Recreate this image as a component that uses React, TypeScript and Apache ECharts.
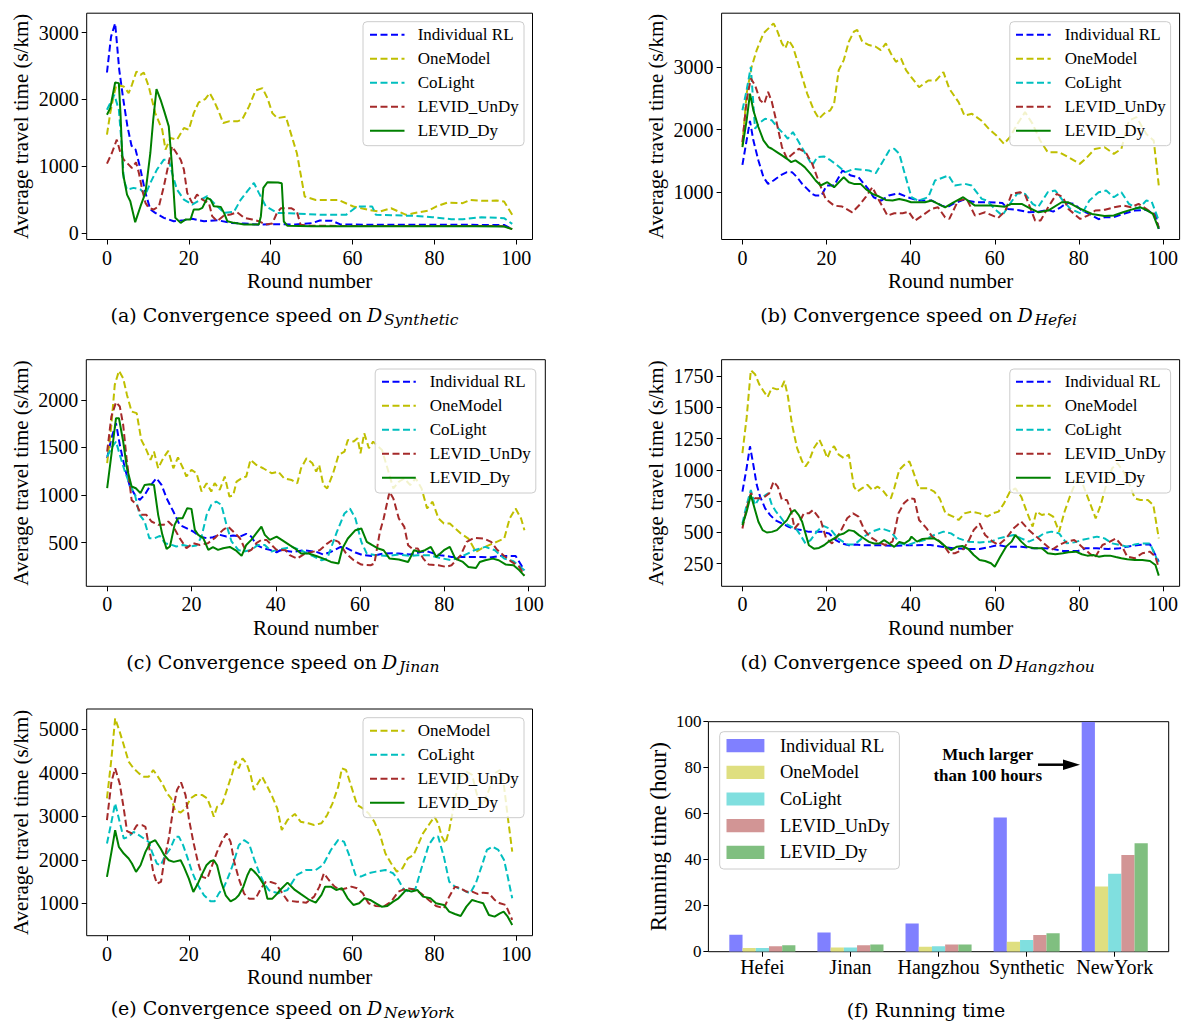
import React, { useEffect, useRef } from 'react';
import * as echarts from 'echarts';

type Pt = [number, number];

const SERIES_NAMES = ['Individual RL', 'OneModel', 'CoLight', 'LEVID_UnDy', 'LEVID_Dy'];
const LINE_COLORS = ['#0000ff', '#bfbf00', '#00bfbf', '#a52a2a', '#008000'];
const BAR_COLORS = ['#8080ff', '#dfdf80', '#80dfdf', '#d29595', '#80bf80'];

// ---------- (a) Synthetic ----------
const synIndividual: Pt[] = [[0,2403],[1,2940],[2,3139],[3,2443],[4,1995],[5,1597],[6,1308],[7,1249],[8.2,950],[9.4,602],[10.6,353],[11.8,303],[13.9,229],[16.3,179],[18.8,194],[20.8,214],[23.7,179],[27,194],[30.2,154],[33.5,144],[36.7,129],[41.6,134],[46,128],[50,150],[52,189],[55,185],[57,130],[65,125],[75,125],[85,125],[97,122],[99,60]];
const synOneModel: Pt[] = [[0,1473],[0.8,1796],[1.6,2045],[2.3,2219],[4.1,2194],[5.3,2095],[6.1,2219],[7.2,2418],[8.2,2368],[9,2403],[10.2,2194],[11.8,1796],[13.5,1547],[14.3,1249],[15.5,1423],[17.1,1398],[18.8,1572],[20,1547],[21.2,1796],[22.4,1955],[24,2005],[25.1,2095],[26.1,1985],[27.3,1821],[28.4,1647],[29.8,1672],[31.8,1672],[33,1697],[34.7,1896],[36.3,2134],[38,2169],[39.2,2020],[40.4,1796],[41.6,1721],[43.7,1741],[46.4,1194],[48.3,547],[51,497],[56.5,497],[60.2,398],[63.9,348],[66.6,323],[69.4,373],[73.1,274],[74.9,298],[78.6,338],[80.4,398],[83.2,458],[86.9,448],[88.7,497],[91.5,483],[95.1,488],[97,473],[99,274]];
const synCoLight: Pt[] = [[0,1846],[0.8,1945],[1.8,2070],[2.9,1846],[3.7,1249],[4.1,801],[4.9,652],[6.5,677],[8.2,652],[9.4,577],[10.6,751],[12.2,950],[13.9,1099],[15.1,1099],[15.9,900],[17.1,652],[18.8,502],[20.8,428],[22.9,502],[24.5,552],[26.1,453],[28.6,303],[31,318],[32.7,502],[34.3,627],[35.9,751],[37.1,602],[38.8,403],[41.6,303],[44.6,298],[52.8,274],[58.4,274],[61.1,398],[64.8,398],[65.7,274],[74.9,259],[79.5,239],[84.1,209],[86.9,209],[91.5,239],[97,224],[99,139]];
const synUnDy: Pt[] = [[0,1040],[1.2,1199],[2.4,1398],[3.3,1199],[4.1,1099],[5.3,1025],[6.1,975],[7.1,1060],[7.8,900],[8.6,652],[9.4,453],[10.2,378],[11.4,353],[12.7,403],[13.9,701],[15.1,1050],[15.9,1298],[16.7,1224],[18,1099],[18.8,950],[19.6,602],[20.8,453],[22,577],[23.3,502],[24.9,453],[25.7,254],[26.9,179],[28.6,264],[30.2,279],[31.8,313],[33.5,229],[35.5,204],[37.1,179],[38.8,129],[40.4,144],[41.5,300],[42.5,373],[45,373],[46.4,323],[47.3,124],[50,110],[60,108],[70,108],[80,108],[90,108],[97,105],[99,60]];
const synDy: Pt[] = [[0,1771],[0.8,1871],[2,2254],[2.9,2244],[3.3,1796],[3.9,900],[4.9,577],[5.7,478],[6.9,164],[8.2,403],[9.4,602],[10.6,1199],[11.3,1696],[12.1,2154],[13.1,1995],[14,1821],[15.1,1597],[15.9,1000],[16.7,229],[18,154],[19.2,204],[20.4,204],[21.2,353],[22.4,353],[23.3,378],[24.5,527],[25.3,502],[26.1,403],[27.8,393],[28.6,303],[29.4,179],[31,154],[33.5,129],[37.1,129],[37.6,254],[38.2,677],[39.2,761],[41.8,756],[42.7,746],[43.2,174],[44.1,109],[50,105],[60,102],[70,102],[80,102],[90,102],[97,100],[99,60]];

// ---------- (b) Hefei ----------
const hefIndividual: Pt[] = [[0,1436],[1,1827],[1.8,2136],[2.6,1827],[3.8,1507],[5,1240],[6.1,1133],[7.4,1187],[9,1267],[10.6,1320],[11.8,1320],[13,1240],[14.2,1133],[15.4,1053],[16.6,973],[17.4,947],[18.8,947],[20,1106],[21.8,1106],[23.8,1346],[25.8,1266],[27.6,1239],[29.9,1053],[31.2,920],[33,867],[34.8,947],[37,984],[39.3,920],[41.8,867],[45,867],[47.4,787],[48.6,760],[50.1,814],[52.5,880],[55.5,840],[58.5,840],[61.8,830],[63.1,734],[65.4,718],[68.1,681],[70.4,690],[72.6,718],[73.9,690],[75.7,760],[77.1,830],[78.9,814],[80.7,708],[82.5,654],[84.7,570],[86.1,601],[88.3,601],[90.5,654],[93.3,708],[95.9,718],[98.2,654],[99,415]];
const hefOneModel: Pt[] = [[0,1747],[1,2573],[2.2,3000],[3.4,3267],[5,3533],[6.2,3613],[7.4,3693],[8.2,3587],[9.4,3373],[10.2,3293],[11,3427],[12,3320],[13,3107],[14.2,2840],[15.4,2573],[17,2307],[18.2,2173],[19.4,2253],[20.9,2307],[21.8,2413],[22.9,2947],[24.1,3107],[25.3,3400],[26.5,3560],[27.3,3587],[28.5,3400],[30.1,3347],[31.7,3320],[32.9,3267],[34.1,3373],[35.3,3213],[36.5,3080],[37.7,3133],[38.9,2947],[40.1,2840],[42,2675],[44.2,2782],[46,2782],[47.8,2915],[49.2,2649],[51.4,2436],[52.8,2223],[54.6,2250],[56.8,2144],[58.6,2011],[60.4,1904],[62.2,1771],[63.6,1878],[65.4,2090],[67.2,2277],[69,2090],[70.8,1824],[72.6,1638],[75.3,1638],[77.5,1558],[80.2,1452],[81.6,1532],[83.8,1691],[86.1,1718],[88.3,1612],[90.1,1691],[91.9,2144],[93.7,2197],[96,1931],[97.8,1824],[99,1106]];
const hefCoLight: Pt[] = [[0,2307],[1,2627],[2,3000],[3,2013],[4,2100],[5.4,2173],[7,2147],[8.6,2013],[9.8,1933],[10.8,1853],[12,1960],[13.4,1800],[15,1613],[16.6,1427],[17.8,1560],[19.4,1571],[21,1507],[22.6,1427],[24.5,1320],[26.5,1373],[28.5,1357],[30.1,1347],[31.7,1304],[33.3,1480],[34.9,1667],[36.1,1693],[37.3,1613],[38.6,1294],[40.2,920],[41.8,867],[44.2,920],[45.8,1187],[49,1267],[50.5,1107],[52.9,1134],[54.5,1106],[56.9,894],[58.1,867],[60.4,708],[61.8,628],[63.6,814],[65.4,984],[67.2,973],[69,814],[70.3,761],[72.6,1000],[74.4,1027],[76.2,867],[78,734],[80.7,654],[82.5,867],[84.7,1000],[86.5,1027],[88.3,920],[90.1,1000],[91.9,814],[94.2,734],[96,867],[97.3,851],[99,548]];
const hefUnDy: Pt[] = [[0,1800],[1,2467],[2,2813],[3,2707],[4.2,2467],[5.2,2413],[6.1,2600],[7,2440],[8.2,2093],[9.4,1720],[10.6,1533],[12,1613],[13.4,1693],[15,1640],[16.6,1453],[18.2,1160],[19.8,893],[21.8,787],[23.7,771],[26.1,680],[27.7,787],[29.3,920],[30.9,1080],[32.5,867],[34.5,627],[36.1,664],[38.1,664],[39.5,690],[41,546],[43,640],[45,734],[46.5,760],[48.2,600],[49.2,574],[51.3,867],[53.3,894],[55.3,627],[57.7,680],[60.8,590],[62.5,700],[64,973],[66,1000],[67.3,947],[69.6,547],[70.9,548],[72.7,761],[74.7,973],[76.2,920],[77.5,734],[80.3,574],[82.1,628],[83.9,708],[86.2,720],[88.4,761],[90.6,787],[92.4,761],[94.2,814],[96,734],[97.8,654],[99,441]];
const hefDy: Pt[] = [[0,1720],[1,2147],[1.8,2573],[2.6,2307],[3.8,2040],[5,1827],[6.2,1720],[7,1693],[8.2,1640],[9.4,1587],[10.6,1533],[11.6,1480],[12.6,1507],[13.8,1453],[14.8,1400],[16.2,1293],[17.4,1187],[18.6,1107],[20.2,1160],[21.8,1080],[24.1,1240],[25.3,1160],[26.5,1133],[28.1,1133],[29.3,1053],[30.9,973],[32.5,931],[34.1,877],[35.7,867],[37.3,893],[38.9,867],[40.1,840],[43.4,840],[45,867],[48.2,760],[50,830],[52.5,920],[55.3,787],[59.3,787],[62.4,770],[64,814],[66.4,814],[68.5,740],[70.4,680],[72.7,707],[75.9,840],[77.5,840],[79.9,750],[83.1,654],[86.1,620],[88.3,628],[90.5,681],[92.3,718],[94.5,761],[96.3,708],[97.6,654],[99,415]];

// ---------- (c) Jinan ----------
const jinIndividual: Pt[] = [[0,1387],[1,1597],[2.1,1754],[3,1527],[4.2,1281],[5.4,1089],[6.6,1001],[7.7,948],[8.9,1001],[10.1,1089],[11.7,1176],[12.9,1106],[14.1,966],[15.7,826],[17.2,686],[18.8,651],[20.4,616],[22,563],[23.6,546],[25.1,556],[26.7,581],[28.3,563],[29.9,574],[31.5,563],[33,591],[34.2,563],[35.4,475],[37,440],[38.6,423],[40.2,398],[41.1,419],[44.2,402],[46.9,419],[49.6,402],[51.3,374],[53.1,402],[55.4,454],[56.7,444],[58.9,395],[60.7,367],[62.9,359],[65.6,384],[67.4,388],[69.2,384],[71.9,374],[74.6,402],[76.3,402],[79,367],[81.7,349],[85.3,349],[88.8,349],[90.6,342],[93.3,359],[96.9,359],[99,208]];
const jinOneModel: Pt[] = [[0,1334],[1,1737],[1.8,2157],[2.8,2305],[3.8,2227],[4.7,2052],[5.8,1877],[7,1860],[8.1,1579],[9.3,1474],[10.3,1369],[11.1,1457],[12.1,1281],[13.3,1387],[14.5,1464],[15.7,1281],[16.8,1394],[18,1281],[18.8,1194],[20,1264],[21.2,1229],[22.4,1036],[23.6,1124],[24.7,1036],[25.5,1124],[26.7,1054],[27.9,1194],[29,984],[29.9,994],[30.7,1141],[31.9,1176],[33,1194],[34,1369],[35.4,1316],[37,1281],[39,1229],[40.6,1245],[42,1174],[43.8,1157],[45.1,1122],[46,1280],[47.3,1385],[48.7,1333],[49.6,1245],[50.3,1315],[51.3,1104],[52.2,1069],[53.6,1227],[54.9,1420],[56.3,1455],[57.1,1578],[58.5,1561],[59.4,1596],[60.1,1438],[61,1649],[62.1,1491],[63.1,1561],[65.2,1473],[66.5,1280],[67.9,1069],[69.2,1139],[70.5,1174],[71.9,1104],[73.2,1174],[74.6,1069],[75.9,858],[77.2,929],[78.6,753],[79.9,700],[81.3,700],[82.6,648],[83.9,595],[85.7,542],[87.5,402],[88.8,437],[90.6,472],[92.4,507],[94.2,542],[95.5,753],[96.9,858],[98.2,753],[99,630]];
const jinCoLight: Pt[] = [[0,1404],[1,1492],[2.1,1562],[3,1422],[4.2,1246],[5.4,1106],[6.6,1001],[7.7,791],[8.9,721],[10,546],[11.3,546],[12.5,570],[13.7,493],[15.3,475],[16.4,458],[18,475],[19.6,458],[21.2,468],[22.4,563],[23.6,791],[24.7,896],[25.9,931],[27.1,896],[28.3,686],[29.5,511],[31.1,423],[32.3,405],[34.2,423],[35.8,475],[37.4,475],[39,405],[40.2,423],[43.8,454],[46,419],[48.7,359],[50.9,314],[52.2,331],[54.5,612],[56.3,806],[57.6,858],[58.9,753],[60.3,507],[61.6,384],[63.8,367],[66.5,359],[69.2,374],[71.9,359],[73.7,367],[76.3,367],[79,338],[81.7,314],[84.4,359],[87.1,419],[89.7,454],[92,419],[94.2,331],[96.4,303],[99,208]];
const jinUnDy: Pt[] = [[0,1457],[1,1825],[2.1,1975],[3,1930],[3.8,1737],[4.6,1387],[5.8,948],[7,896],[8.1,791],[9.3,791],[10.5,721],[12.1,686],[13.4,686],[14.5,721],[15.7,668],[17.2,546],[18.8,441],[20.4,493],[22,475],[23.9,493],[25.5,546],[27.5,633],[28.7,668],[29.9,616],[31.5,546],[32.6,440],[33.4,405],[34.2,423],[35.4,493],[36.6,528],[37.8,528],[39,475],[40.2,423],[42.4,419],[43.3,367],[45.1,331],[46.9,384],[48.7,402],[50.4,419],[52.2,489],[53.6,532],[54.9,507],[56.7,384],[58.5,314],[60.3,268],[62.5,261],[63.4,279],[64.7,612],[65.6,753],[67,1034],[67.9,964],[69.2,753],[70.5,665],[71.4,472],[72.3,437],[73.7,437],[75,331],[76.3,268],[78.6,261],[80.4,244],[81.7,261],[83.9,367],[85.3,507],[87.1,549],[89.3,542],[91.1,507],[92.4,430],[94.2,359],[96,296],[97.8,244],[99,156]];
const jinDy: Pt[] = [[0,1071],[1,1422],[2.1,1807],[2.8,1807],[3.8,1562],[4.7,1281],[5.8,1089],[6.8,1071],[7.9,1019],[8.9,1106],[10.1,1113],[11.1,1106],[12.1,791],[13.1,581],[14.1,433],[14.9,458],[16,686],[16.8,756],[17.9,756],[19,861],[20,854],[20.8,633],[21.6,581],[22.8,546],[24,423],[25.1,451],[26.3,423],[27.5,440],[29.1,454],[30.7,412],[31.9,360],[33,475],[34.2,528],[35.4,598],[36.6,668],[37.4,581],[38.6,528],[40.2,563],[41.5,525],[43.3,472],[44.6,437],[46,384],[47.8,384],[49.6,359],[51.3,331],[53.1,296],[54.9,279],[55.8,437],[57.1,542],[58.9,630],[60.3,648],[61.6,507],[62.9,472],[64.3,437],[65.6,419],[67,331],[69.2,321],[71.4,296],[72.8,419],[74.1,402],[75.4,419],[76.8,454],[78.1,349],[79.9,419],[81.3,454],[82.6,331],[84.4,296],[85.7,244],[87.5,233],[88.4,296],[89.7,314],[91.5,331],[92.9,314],[94.6,268],[96.4,261],[97.8,208],[99,149]];

// ---------- (d) Hangzhou ----------
const hzIndividual: Pt[] = [[0,826],[1,1014],[1.8,1188],[2.6,1040],[3.4,880],[4.2,786],[5.4,692],[6.6,638],[7.8,598],[9.4,571],[11,545],[12.6,526],[14.2,518],[15.8,504],[19,504],[20.6,491],[22.2,438],[23.7,411],[25.3,397],[26.9,403],[28.5,397],[33.3,397],[35.7,392],[38.9,397],[44.7,399],[47.4,386],[50.1,373],[53.7,367],[56.4,367],[59.1,386],[60.9,399],[62.7,386],[66.3,386],[69,373],[71.7,373],[73.9,367],[76.2,351],[79.8,351],[81.6,373],[84.3,373],[87,367],[89.7,373],[91.5,386],[94.2,399],[96.9,405],[99,266]];
const hzOneModel: Pt[] = [[0,1134],[1,1415],[2,1796],[3,1764],[4,1683],[5,1630],[6,1581],[7,1656],[8.2,1643],[9.2,1651],[10,1710],[10.8,1590],[11.8,1362],[13,1174],[14.2,1067],[15,1027],[15.8,1067],[17,1174],[18.3,1241],[19.4,1161],[20.2,1094],[21,1161],[21.8,1188],[22.9,1121],[24.1,1094],[25.3,1121],[26.5,866],[27.3,826],[28.5,853],[29.7,880],[30.9,839],[32.1,866],[33.3,839],[34.5,786],[35.3,772],[36.1,853],[37.3,1000],[38.5,1040],[39.7,1067],[40.2,1025],[42,852],[44.2,852],[45.6,825],[46.9,772],[48.3,652],[50.1,626],[51.4,599],[52.8,652],[54.6,666],[56.4,652],[58.2,626],[59.5,652],[60.9,666],[62.2,732],[63.6,825],[64.9,852],[66.3,785],[67.6,666],[69,546],[69.9,666],[71.2,639],[72.6,652],[73.9,626],[75.3,506],[76.6,666],[78,799],[79.3,905],[80.7,905],[82.5,746],[84,612],[85.2,719],[86.5,879],[87.9,1012],[89.2,1052],[90.6,985],[91.9,892],[93.3,772],[94.6,759],[96.4,759],[97.7,719],[99,452]];
const hzCoLight: Pt[] = [[0,571],[1,719],[2,839],[3,719],[4,772],[5,786],[6.1,813],[7,719],[8,665],[9,625],[10.2,571],[11.6,545],[12.7,531],[13.8,478],[15,411],[16.2,438],[17.7,506],[19.1,554],[20.9,527],[22.7,452],[24.9,404],[26.7,404],[28.9,466],[30.8,506],[33,532],[35.3,506],[37.5,412],[39.3,399],[41.1,420],[43.3,439],[45.6,479],[47.8,506],[49.6,492],[51.4,452],[53.7,426],[56.4,420],[59.1,426],[60.9,452],[62.7,466],[64.5,479],[66.3,452],[68.1,426],[69.9,452],[71.7,492],[73.5,506],[75.3,492],[77.1,412],[78.9,420],[80.7,439],[82.5,452],[84.3,466],[86.1,452],[87.9,412],[89.7,399],[91.5,386],[93.3,404],[95.1,412],[96.9,412],[99,253]];
const hzUnDy: Pt[] = [[0,531],[1,692],[2,813],[3,772],[4.2,772],[5.4,786],[6.4,813],[7.4,906],[8.4,866],[9.4,759],[10.6,759],[11.6,665],[12.4,531],[13.4,571],[14.6,652],[15.8,652],[16.8,679],[18.6,599],[19.9,452],[21.3,412],[23.1,492],[24.9,612],[26.3,652],[27.6,626],[29,519],[30.3,466],[32.1,426],[33.9,399],[35.7,426],[37.1,652],[38.4,732],[39.7,772],[40.9,767],[42,599],[43.8,532],[45.1,466],[46.5,439],[47.8,399],[49.2,333],[50.5,333],[52.3,359],[53.7,426],[55,519],[56.4,572],[57.7,479],[59.5,426],[60.9,399],[62.7,452],[64.5,532],[66.3,586],[68.1,519],[69.9,466],[71.7,412],[73.5,359],[75.3,399],[77.1,426],[78.9,439],[80.7,386],[82.5,333],[83.8,298],[85.6,399],[87.4,426],[88.8,452],[90.1,399],[91.5,306],[93.3,293],[95.1,333],[96.9,346],[98.2,306],[99,213]];
const hzDy: Pt[] = [[0,558],[1,665],[2,799],[3,679],[3.8,585],[4.8,518],[5.8,499],[7,504],[8.2,518],[9.4,558],[10.6,598],[11.6,660],[12.4,679],[13.4,638],[14.2,585],[15,491],[15.8,397],[17,370],[18.2,376],[19.4,397],[20.6,429],[21.8,451],[22.9,478],[24.1,491],[25.3,518],[26.5,510],[27.7,478],[28.9,451],[30.1,424],[31.3,411],[32.5,411],[33.7,438],[34.9,411],[36.1,384],[37.3,424],[38.5,411],[39.7,438],[40.2,466],[41.5,426],[42.8,447],[44.2,452],[45.6,452],[46.9,426],[48.3,386],[49.6,359],[51,386],[52.3,391],[53.7,367],[55,319],[56.4,279],[57.7,271],[59.1,253],[60,226],[61.3,306],[62.7,386],[64,426],[64.9,479],[66.3,426],[67.6,386],[69.4,373],[71.2,373],[72.6,333],[74.4,325],[76.2,333],[77.5,341],[79.3,346],[80.7,325],[82,314],[83.4,319],[84.7,306],[86.1,314],[87.4,314],[88.8,303],[90.1,293],[91.5,285],[93.3,279],[95.1,279],[96.9,271],[98.2,239],[99,154]];

// ---------- (e) NewYork ----------
const nyOneModel: Pt[] = [[0,3411],[1.1,4332],[2,5254],[3.1,4947],[4.1,4639],[5.3,4255],[6.5,4102],[7.8,3987],[9,3910],[10.2,3910],[11.3,4063],[12.2,3948],[13.5,3756],[14.7,3526],[15.7,3411],[16.6,3142],[18,3088],[19.2,3181],[20.4,3411],[21.6,3488],[23.3,3488],[24.5,3411],[25.3,3219],[26.1,2989],[26.9,3219],[28.2,3296],[29.4,3641],[30.6,3987],[31.4,4271],[32.2,4102],[33.1,4332],[34.1,4217],[35.1,3948],[35.9,3603],[37.1,3795],[37.9,3910],[39.2,3680],[40.4,3449],[41.6,3181],[42.7,2686],[44.1,2916],[45.9,3054],[47.3,2877],[49.2,2839],[50.6,2801],[52.4,2839],[53.8,3031],[55.1,3299],[56.5,3682],[57.4,4104],[58.4,4065],[59.7,3682],[61.1,3261],[62.5,3184],[63.9,3069],[65.3,2877],[66.6,2609],[68,2149],[69.4,1920],[70.8,1728],[72.2,1805],[73.5,2034],[74.9,2111],[75.8,2303],[77.2,2609],[78.6,2801],[80,2992],[80.9,2839],[81.8,2533],[82.7,2379],[83.6,2686],[85.5,3605],[86.4,3912],[87.8,4027],[89.2,3950],[90.5,3452],[91.9,3261],[93.3,3605],[94.7,3988],[96,4065],[96.9,3759],[97.9,2992],[99,2188]];
const nyCoLight: Pt[] = [[0,2374],[1.1,2873],[2,3296],[3.1,2873],[4.1,2490],[5.3,2528],[6.5,2643],[7.8,2566],[9,2490],[10.2,2413],[11,2182],[12.2,1914],[13.1,1875],[14.3,2106],[15.5,2259],[16.7,2528],[17.6,2528],[18.6,2336],[19.6,2067],[20.8,1722],[22,1453],[23.7,1184],[25.3,1046],[26.3,1046],[27.3,1223],[28.6,1376],[29.8,1645],[31,1952],[32.2,2336],[33.5,2451],[34.7,2374],[35.9,2029],[37.1,1722],[38.4,1453],[39.6,1299],[40.8,1261],[41.8,1230],[44.1,1307],[46.4,1651],[48.7,1766],[51,1766],[52.8,1881],[54.7,2226],[56.5,2456],[57.9,2418],[59.3,2073],[60.7,1651],[62,1613],[63.9,1690],[65.7,1728],[68,1766],[69.9,1690],[71.2,1536],[72.6,1307],[74,1268],[75.4,1345],[76.7,1766],[78.6,2341],[80,2533],[80.9,2533],[82.3,2073],[83.6,1498],[85,1383],[86.9,1307],[88.7,1230],[90.1,1460],[91.5,1843],[92.8,2226],[94.2,2303],[95.6,2226],[97,1996],[97.9,1613],[99,1115]];
const nyUnDy: Pt[] = [[0,2912],[1.1,3795],[2,4102],[3.1,3756],[4.1,3181],[4.9,2658],[6.1,2605],[7.3,2797],[8.6,2797],[9.4,2758],[10.2,2336],[11.3,1722],[12.2,1453],[13.2,1491],[14,1990],[15.1,2490],[16.2,3181],[17.1,3603],[18.1,3779],[19.2,3488],[20,2950],[21.1,2413],[22.2,1952],[23.3,1607],[24.5,1568],[25.7,1875],[26.9,2182],[28.2,2451],[29.2,2605],[30.2,2413],[31.1,1952],[32.2,1568],[33.5,1223],[34.7,1107],[36.3,1107],[37.6,1338],[38.8,1491],[40,1491],[41.2,1453],[42.3,1307],[44.1,1061],[46.4,1038],[48.7,1015],[50.6,1153],[51.9,1383],[53,1690],[54.2,1536],[55.6,1383],[57,1307],[58.4,1345],[59.7,1383],[61.1,1345],[62.5,1230],[63.9,1000],[65.7,939],[67.6,923],[69.4,1038],[71.2,1268],[73.1,1345],[74.9,1322],[76.7,1230],[78.6,1077],[80.4,939],[82.3,885],[83.6,1153],[85,1383],[86.4,1345],[87.8,1268],[89.2,1268],[90.5,1215],[91.9,1245],[93.3,1230],[94.7,1077],[96,1000],[97.4,962],[99,617]];
const nyDy: Pt[] = [[0,1607],[1.1,2182],[2,2681],[2.9,2298],[4.1,2144],[5.3,2029],[6.1,1914],[7.1,1722],[8.2,1875],[9.4,2182],[10.6,2397],[11.8,2451],[13.1,2259],[14,2106],[15.1,1990],[16.3,1952],[18,1990],[18.8,1837],[20,1568],[21.1,1261],[22.2,1453],[23.3,1683],[24.3,1875],[25.3,1967],[26.1,1990],[26.9,1875],[27.9,1491],[29,1184],[30.2,1046],[31.4,1107],[32.2,1184],[33.3,1376],[34.3,1645],[35.1,1798],[35.9,1737],[37.1,1607],[38.4,1415],[39.2,1107],[40.4,1107],[41.6,1223],[42.3,1307],[44.1,1475],[45.9,1307],[47.3,1215],[49.2,1092],[51,1015],[52.4,1192],[53.3,1383],[54.7,1383],[56,1307],[57.4,1345],[58.8,1115],[60.2,962],[61.6,1000],[62.9,1115],[64.3,1077],[65.7,1000],[67.1,923],[68.5,939],[69.9,1038],[71.2,1115],[73.1,1307],[74.4,1268],[75.8,1307],[77.2,1153],[79,1115],[80.4,1000],[82.3,962],[83.6,808],[85,755],[86.4,709],[87.8,923],[89.2,1077],[90.5,1038],[91.9,1000],[93.3,732],[94.7,693],[96,770],[96.9,808],[97.9,693],[99,502]];

// ---------- (f) Running time ----------
const runCities = ['Hefei', 'Jinan', 'Hangzhou', 'Synthetic', 'NewYork'];
const runIndividual = [7.4, 8.3, 12.3, 58.3, 100];
const runOneModel = [1.6, 1.8, 2.1, 4.3, 28.3];
const runCoLight = [1.6, 1.8, 2.4, 5.1, 33.9];
const runUnDy = [2.4, 2.8, 3.1, 7.3, 42.0];
const runDy = [2.8, 3.1, 3.1, 8.0, 47.1];

// ---------- tick labels ----------
const roundTicks = [0, 20, 40, 60, 80, 100];
const synTicks = [0, 1000, 2000, 3000];
const hefTicks = [1000, 2000, 3000];
const jinTicks = [500, 1000, 1500, 2000];
const hzTicks = [250, 500, 750, 1000, 1250, 1500, 1750];
const nyTicks = [1000, 2000, 3000, 4000, 5000];
const runTicks = [0, 20, 40, 60, 80, 100];
const cityTicks = [0, 1, 2, 3, 4];

const FONT = '"Liberation Serif", "Times New Roman", serif';
const CAP_FONT = '"DejaVu Serif", serif';

interface LineChartDef {
  grid: { left: number; top: number; width: number; height: number };
  yMin: number; yMax: number; yTicks: number[];
  data: Pt[][]; names: string[]; colors: string[];
  legend: { x0: number; x1: number; y0: number; y1: number; h0: number; h1: number; tx: number; row0: number };
}

const lineCharts: LineChartDef[] = [
  { grid: { left: 86.7, top: 13.2, width: 445.8, height: 226.3 }, yMin: -95, yMax: 3290, yTicks: synTicks,
    data: [synIndividual, synOneModel, synCoLight, synUnDy, synDy], names: SERIES_NAMES, colors: LINE_COLORS,
    legend: { x0: 363, x1: 524, y0: 21.7, y1: 145.7, h0: 370, h1: 404.5, tx: 417.7, row0: 34.7 } },
  { grid: { left: 721.6, top: 13.2, width: 458, height: 226.3 }, yMin: 246, yMax: 3855, yTicks: hefTicks,
    data: [hefIndividual, hefOneModel, hefCoLight, hefUnDy, hefDy], names: SERIES_NAMES, colors: LINE_COLORS,
    legend: { x0: 1009.8, x1: 1170.6, y0: 21.7, y1: 145.7, h0: 1016, h1: 1050.7, tx: 1064.7, row0: 34.7 } },
  { grid: { left: 86.3, top: 359.7, width: 459, height: 226.6 }, yMin: 40, yMax: 2422, yTicks: jinTicks,
    data: [jinIndividual, jinOneModel, jinCoLight, jinUnDy, jinDy], names: SERIES_NAMES, colors: LINE_COLORS,
    legend: { x0: 375.2, x1: 535.8, y0: 369, y1: 493, h0: 382, h1: 415.8, tx: 429.7, row0: 381.7 } },
  { grid: { left: 721.6, top: 359.7, width: 458, height: 226.6 }, yMin: 69, yMax: 1880, yTicks: hzTicks,
    data: [hzIndividual, hzOneModel, hzCoLight, hzUnDy, hzDy], names: SERIES_NAMES, colors: LINE_COLORS,
    legend: { x0: 1009.8, x1: 1170.6, y0: 369, y1: 493, h0: 1016, h1: 1050.7, tx: 1064.7, row0: 381.7 } },
  { grid: { left: 86.7, top: 709, width: 445.8, height: 226.7 }, yMin: 255, yMax: 5467, yTicks: nyTicks,
    data: [nyOneModel, nyCoLight, nyUnDy, nyDy], names: SERIES_NAMES.slice(1), colors: LINE_COLORS.slice(1),
    legend: { x0: 363, x1: 524, y0: 717.7, y1: 817.7, h0: 370, h1: 404.5, tx: 417.7, row0: 730.7 } },
];

const barGrid = { left: 708.4, top: 721.7, width: 460.3, height: 230 };
const runData = [runIndividual, runOneModel, runCoLight, runUnDy, runDy];

const captions = [
  { main: '(a) Convergence speed on', dx: 366.9, sub: 'Synthetic', cy: 315 },
  { main: '(b) Convergence speed on', dx: 1017.4, sub: 'Hefei', cy: 315 },
  { main: '(c) Convergence speed on', dx: 382, sub: 'Jinan', cy: 662 },
  { main: '(d) Convergence speed on', dx: 997.7, sub: 'Hangzhou', cy: 662 },
  { main: '(e) Convergence speed on', dx: 366.9, sub: 'NewYork', cy: 1008 },
];

const DASH = [7, 3.5];
const plainNum = (v: number) => String(v);

function buildOption(): any {
  const grid: any[] = [];
  const xAxis: any[] = [];
  const yAxis: any[] = [];
  const series: any[] = [];
  const graphic: any[] = [];

  const tickStyle = { color: '#000', width: 1 };

  lineCharts.forEach((c, i) => {
    grid.push({ ...c.grid, show: true, borderColor: '#000', borderWidth: 1, backgroundColor: 'transparent' });
    xAxis.push({
      type: 'value', gridIndex: i, min: -4.95, max: 103.95,
      axisLine: { show: false, onZero: false },
      axisTick: { show: true, length: 5, lineStyle: tickStyle, customValues: roundTicks },
      axisLabel: { color: '#000', fontFamily: FONT, fontSize: 20, margin: 8, customValues: roundTicks, formatter: plainNum },
      splitLine: { show: false },
      name: 'Round number', nameLocation: 'middle', nameGap: 31,
      nameTextStyle: { fontFamily: FONT, fontSize: 21, color: '#000' },
    });
    yAxis.push({
      type: 'value', gridIndex: i, min: c.yMin, max: c.yMax,
      axisLine: { show: false, onZero: false },
      axisTick: { show: true, length: 5, lineStyle: tickStyle, customValues: c.yTicks },
      axisLabel: { color: '#000', fontFamily: FONT, fontSize: 20, margin: 8, customValues: c.yTicks, formatter: plainNum },
      splitLine: { show: false },
      name: 'Average travel time (s/km)', nameLocation: 'middle', nameGap: 55, nameRotate: 90,
      nameTextStyle: { fontFamily: FONT, fontSize: 21, color: '#000' },
    });
    c.data.forEach((d, k) => {
      const solid = c.names[k] === 'LEVID_Dy';
      series.push({
        type: 'line', name: c.names[k], xAxisIndex: i, yAxisIndex: i, data: d,
        showSymbol: false, symbol: 'none', clip: true, animation: false,
        lineStyle: { color: c.colors[k], width: 2, type: solid ? 'solid' : DASH },
        itemStyle: { color: c.colors[k] },
        z: 2 + k,
      });
    });
    const L = c.legend;
    graphic.push({
      type: 'rect', z: 100,
      shape: { x: L.x0, y: L.y0, width: L.x1 - L.x0, height: L.y1 - L.y0, r: 4 },
      style: { fill: 'rgba(255,255,255,0.8)', stroke: '#cccccc', lineWidth: 1 },
    });
    c.names.forEach((n, k) => {
      const y = L.row0 + 24 * k;
      const solid = n === 'LEVID_Dy';
      graphic.push({
        type: 'line', z: 101,
        shape: { x1: L.h0, y1: y, x2: L.h1, y2: y },
        style: { stroke: c.colors[k], lineWidth: 2, lineDash: solid ? null : DASH },
      });
      graphic.push({
        type: 'text', z: 101, x: L.tx, y,
        style: { text: n, fontFamily: FONT, fontSize: 17, fill: '#000', align: 'left', verticalAlign: 'middle' },
      });
    });
  });

  // bar chart (f)
  const bi = lineCharts.length;
  grid.push({ ...barGrid, show: true, borderColor: '#000', borderWidth: 1, backgroundColor: 'transparent' });
  xAxis.push({
    type: 'value', gridIndex: bi, min: -0.6125, max: 4.6125,
    axisLine: { show: false, onZero: false },
    axisTick: { show: true, length: 5, lineStyle: tickStyle, customValues: cityTicks },
    axisLabel: {
      color: '#000', fontFamily: FONT, fontSize: 20, margin: 5, customValues: cityTicks,
      formatter: (v: number) => runCities[Math.round(v)] ?? '',
    },
    splitLine: { show: false },
  });
  yAxis.push({
    type: 'value', gridIndex: bi, min: 0, max: 100, interval: 20,
    axisLine: { show: false, onZero: false },
    axisTick: { show: true, length: 5, lineStyle: tickStyle, customValues: runTicks },
    axisLabel: { color: '#000', fontFamily: FONT, fontSize: 17, margin: 7, customValues: runTicks, formatter: plainNum },
    splitLine: { show: false },
    name: 'Running time (hour)', nameLocation: 'middle', nameGap: 38, nameRotate: 90,
    nameTextStyle: { fontFamily: FONT, fontSize: 23, color: '#000' },
  });
  runData.forEach((vals, s) => {
    series.push({
      type: 'custom', name: SERIES_NAMES[s], xAxisIndex: bi, yAxisIndex: bi,
      data: vals.map((v, i) => [i, v]),
      encode: { x: 0, y: 1 },
      clip: true,
      renderItem: (_p: any, api: any) => {
        const cat = api.value(0) as number;
        const v = api.value(1) as number;
        const center = cat - 0.3 + 0.15 * s;
        const p0 = api.coord([center - 0.075, v]);
        const p1 = api.coord([center + 0.075, 0]);
        return {
          type: 'rect',
          shape: { x: p0[0], y: p0[1], width: p1[0] - p0[0], height: p1[1] - p0[1] },
          style: { fill: BAR_COLORS[s] },
        };
      },
    });
  });
  // bar legend
  graphic.push({
    type: 'rect', z: 100,
    shape: { x: 719.7, y: 731.7, width: 179.7, height: 137.3, r: 4 },
    style: { fill: 'rgba(255,255,255,0.8)', stroke: '#cccccc', lineWidth: 1 },
  });
  SERIES_NAMES.forEach((n, k) => {
    const y = 745.7 + 26.65 * k;
    graphic.push({
      type: 'rect', z: 101,
      shape: { x: 726.5, y: y - 6.6, width: 37.9, height: 13.2 },
      style: { fill: BAR_COLORS[k] },
    });
    graphic.push({
      type: 'text', z: 101, x: 779.9, y,
      style: { text: n, fontFamily: FONT, fontSize: 18.5, fill: '#000', align: 'left', verticalAlign: 'middle' },
    });
  });
  // annotation + arrow
  graphic.push({
    type: 'text', z: 101, x: 987.7, y: 754.3,
    style: { text: 'Much larger', fontFamily: FONT, fontSize: 17, fontWeight: 'bold', fill: '#000', align: 'center', verticalAlign: 'middle' },
  });
  graphic.push({
    type: 'text', z: 101, x: 987.7, y: 775.7,
    style: { text: 'than 100 hours', fontFamily: FONT, fontSize: 17, fontWeight: 'bold', fill: '#000', align: 'center', verticalAlign: 'middle' },
  });
  graphic.push({
    type: 'line', z: 101,
    shape: { x1: 1038, y1: 764.7, x2: 1065, y2: 764.7 },
    style: { stroke: '#000', lineWidth: 2.5 },
  });
  graphic.push({
    type: 'polygon', z: 101,
    shape: { points: [[1063, 759.5], [1080, 764.7], [1063, 769.9]] },
    style: { fill: '#000' },
  });

  // captions
  captions.forEach((c) => {
    graphic.push({
      type: 'text', x: c.dx - 5, y: c.cy,
      style: { text: c.main, fontFamily: CAP_FONT, fontSize: 19, fill: '#000', align: 'right', verticalAlign: 'middle' },
    });
    graphic.push({
      type: 'text', x: c.dx, y: c.cy,
      style: { text: 'D', fontFamily: CAP_FONT, fontSize: 19, fontStyle: 'italic', fill: '#000', align: 'left', verticalAlign: 'middle' },
    });
    graphic.push({
      type: 'text', x: c.dx + 17, y: c.cy + 4.5,
      style: { text: c.sub, fontFamily: CAP_FONT, fontSize: 15.5, fontStyle: 'italic', fill: '#000', align: 'left', verticalAlign: 'middle' },
    });
  });
  graphic.push({
    type: 'text', x: 926, y: 1009.5,
    style: { text: '(f) Running time', fontFamily: CAP_FONT, fontSize: 19, fill: '#000', align: 'center', verticalAlign: 'middle' },
  });

  return {
    animation: false,
    backgroundColor: '#ffffff',
    textStyle: { fontFamily: FONT },
    grid, xAxis, yAxis, series, graphic,
  };
}

export default function App() {
  const ref = useRef<HTMLDivElement>(null);
  useEffect(() => {
    if (!ref.current) return;
    const chart = echarts.init(ref.current, null, { renderer: 'svg' });
    chart.setOption(buildOption());
    return () => chart.dispose();
  }, []);
  return (
    <div
      ref={ref}
      style={{ position: 'absolute', left: 0, top: 0, width: 1183, height: 1023, background: '#fff' }}
    />
  );
}
